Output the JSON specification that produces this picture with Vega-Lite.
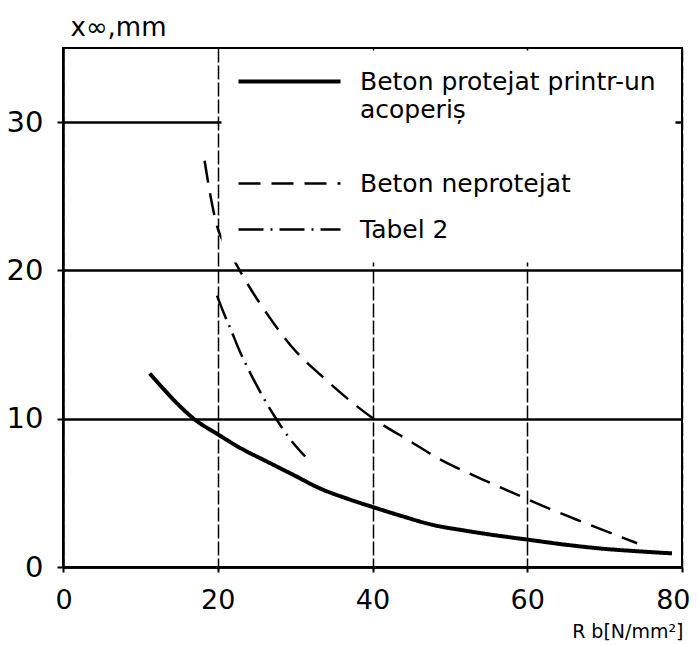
{
  "$schema": "https://vega.github.io/schema/vega-lite/v6.json",
  "width": 619,
  "height": 519,
  "autosize": "none",
  "padding": {"left": 63, "top": 48, "right": 15, "bottom": 78},
  "background": "white",
  "config": {
    "view": {"stroke": "black", "strokeWidth": 2},
    "font": "DejaVu Sans",
    "axis": {
      "domainColor": "black",
      "domainWidth": 2.5,
      "tickColor": "black",
      "tickWidth": 2,
      "gridColor": "black",
      "gridOpacity": 1,
      "labelColor": "black",
      "titleColor": "black",
      "labelFont": "DejaVu Sans",
      "titleFont": "DejaVu Sans",
      "labelFontSize": 29,
      "labelFlush": false,
      "labelOverlap": false,
      "titleFontWeight": "normal"
    }
  },
  "data": {
    "values": [
      {"x": 11.2, "y": 13.05, "series": "Beton protejat printr-un acoperiș"},
      {"x": 13, "y": 12.0, "series": "Beton protejat printr-un acoperiș"},
      {"x": 15, "y": 10.9, "series": "Beton protejat printr-un acoperiș"},
      {"x": 16.9, "y": 10.0, "series": "Beton protejat printr-un acoperiș"},
      {"x": 20, "y": 8.95, "series": "Beton protejat printr-un acoperiș"},
      {"x": 23, "y": 8.0, "series": "Beton protejat printr-un acoperiș"},
      {"x": 26.2, "y": 7.15, "series": "Beton protejat printr-un acoperiș"},
      {"x": 30, "y": 6.15, "series": "Beton protejat printr-un acoperiș"},
      {"x": 33, "y": 5.35, "series": "Beton protejat printr-un acoperiș"},
      {"x": 36.9, "y": 4.58, "series": "Beton protejat printr-un acoperiș"},
      {"x": 40, "y": 4.05, "series": "Beton protejat printr-un acoperiș"},
      {"x": 44, "y": 3.4, "series": "Beton protejat printr-un acoperiș"},
      {"x": 47.7, "y": 2.85, "series": "Beton protejat printr-un acoperiș"},
      {"x": 52, "y": 2.45, "series": "Beton protejat printr-un acoperiș"},
      {"x": 56.4, "y": 2.1, "series": "Beton protejat printr-un acoperiș"},
      {"x": 60, "y": 1.85, "series": "Beton protejat printr-un acoperiș"},
      {"x": 65, "y": 1.5, "series": "Beton protejat printr-un acoperiș"},
      {"x": 69.4, "y": 1.25, "series": "Beton protejat printr-un acoperiș"},
      {"x": 74, "y": 1.07, "series": "Beton protejat printr-un acoperiș"},
      {"x": 78.7, "y": 0.92, "series": "Beton protejat printr-un acoperiș"},

      {"x": 18.3, "y": 27.4, "series": "Beton neprotejat"},
      {"x": 19.0, "y": 25.2, "series": "Beton neprotejat"},
      {"x": 19.75, "y": 23.3, "series": "Beton neprotejat"},
      {"x": 21.7, "y": 21.1, "series": "Beton neprotejat"},
      {"x": 23.9, "y": 19.05, "series": "Beton neprotejat"},
      {"x": 26.6, "y": 16.9, "series": "Beton neprotejat"},
      {"x": 29.4, "y": 14.95, "series": "Beton neprotejat"},
      {"x": 33.6, "y": 12.8, "series": "Beton neprotejat"},
      {"x": 36.9, "y": 11.3, "series": "Beton neprotejat"},
      {"x": 40, "y": 10.05, "series": "Beton neprotejat"},
      {"x": 44.8, "y": 8.5, "series": "Beton neprotejat"},
      {"x": 48.6, "y": 7.3, "series": "Beton neprotejat"},
      {"x": 53.4, "y": 6.1, "series": "Beton neprotejat"},
      {"x": 58.6, "y": 4.9, "series": "Beton neprotejat"},
      {"x": 60.3, "y": 4.5, "series": "Beton neprotejat"},
      {"x": 67.8, "y": 2.9, "series": "Beton neprotejat"},
      {"x": 74.2, "y": 1.6, "series": "Beton neprotejat"},

      {"x": 19.9, "y": 18.3, "series": "Tabel 2"},
      {"x": 20.8, "y": 17.1, "series": "Tabel 2"},
      {"x": 21.7, "y": 16.0, "series": "Tabel 2"},
      {"x": 22.8, "y": 14.6, "series": "Tabel 2"},
      {"x": 23.8, "y": 13.5, "series": "Tabel 2"},
      {"x": 25.5, "y": 11.8, "series": "Tabel 2"},
      {"x": 27.3, "y": 10.2, "series": "Tabel 2"},
      {"x": 29.1, "y": 8.8, "series": "Tabel 2"},
      {"x": 31.3, "y": 7.45, "series": "Tabel 2"}
    ]
  },
  "mark": {"type": "line", "interpolate": "monotone", "color": "black", "strokeCap": "butt"},
  "encoding": {
    "x": {
      "field": "x",
      "type": "quantitative",
      "scale": {"domain": [0, 80], "nice": false, "zero": false},
      "axis": {
        "values": [0, 20, 40, 60, 80],
        "title": "R b[N/mm²]",
        "titleFontSize": 19,
        "titleX": 620,
        "titleY": 70,
        "titleAlign": "right",
        "titleBaseline": "alphabetic",
        "tickSize": 5,
        "labelPadding": 15,
        "labelFontSize": 27,
        "labelFlush": true,
        "labelFlushOffset": 8,
        "grid": true,
        "gridWidth": 1.5,
        "gridDash": [14, 3]
      }
    },
    "y": {
      "field": "y",
      "type": "quantitative",
      "scale": {"domain": [0, 35], "nice": false},
      "axis": {
        "values": [0, 10, 20, 30],
        "title": "x∞,mm",
        "titleFontSize": 26,
        "titleAngle": 0,
        "titleAlign": "left",
        "titleBaseline": "alphabetic",
        "titleX": 7,
        "titleY": -13,
        "tickSize": 6,
        "labelPadding": 14,
        "grid": true,
        "gridWidth": 2.5
      }
    },
    "strokeDash": {
      "field": "series",
      "type": "nominal",
      "scale": {
        "domain": ["Beton protejat printr-un acoperiș", "Beton neprotejat", "Tabel 2"],
        "range": [[1, 0], [22, 11], [25, 7, 2, 7]]
      },
      "legend": {
        "title": null,
        "orient": "none",
        "legendX": 158,
        "legendY": 2,
        "padding": 19,
        "fillColor": "white",
        "strokeColor": "transparent",
        "symbolType": "M-4,0H4",
        "symbolSize": 650,
        "symbolStrokeWidth": 2.5,
        "symbolStrokeColor": "black",
        "symbolOffset": 37,
        "labelOffset": 58,
        "labelFontSize": 25,
        "labelFont": "DejaVu Sans",
        "labelColor": "black",
        "labelLimit": 500,
        "rowPadding": 20,
        "labelExpr": "datum.label == 'Beton protejat printr-un acoperiș' ? ['Beton protejat printr-un', 'acoperiș', ''] : datum.label",
        "encode": {
          "labels": {"update": {"lineHeight": {"value": 28}}},
          "symbols": {"update": {"strokeWidth": {"signal": "datum.value === 'Beton protejat printr-un acoperiș' ? 4 : 2.5"}}}
        }
      }
    },
    "strokeWidth": {
      "condition": {"test": "datum.series === 'Beton protejat printr-un acoperiș'", "value": 4},
      "value": 2.5
    }
  }
}
